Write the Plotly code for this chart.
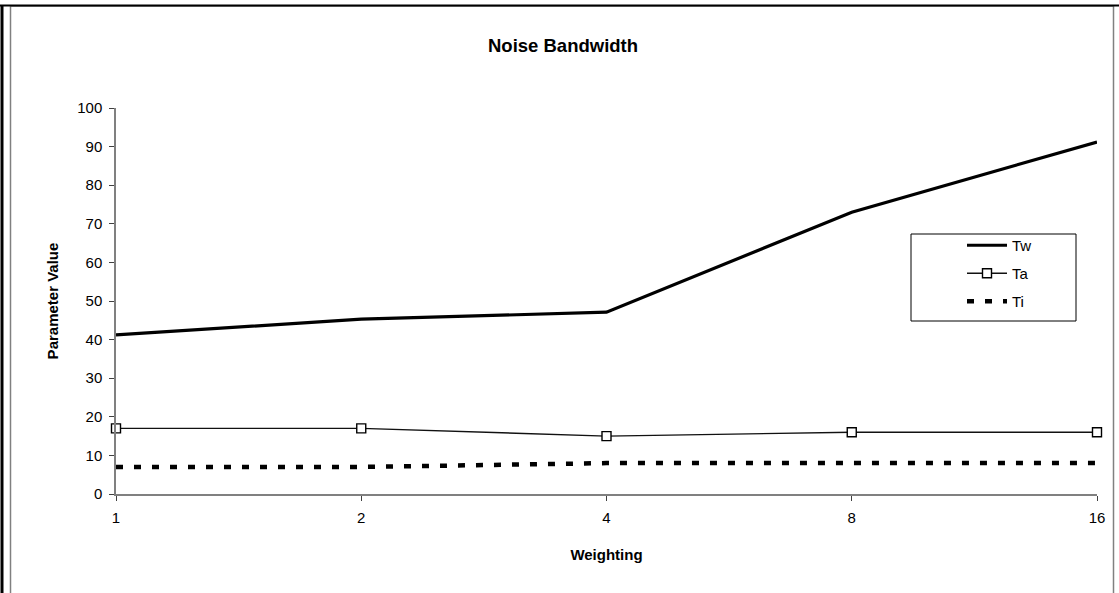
import plotly.graph_objects as go

categories = ["1", "2", "4", "8", "16"]
tw = [41.2, 45.3, 47.1, 73.0, 91.2]
ta = [17, 17, 15, 16, 16]
ti = [7, 7, 8, 8, 8]
y_ticks = [0, 10, 20, 30, 40, 50, 60, 70, 80, 90, 100]

W, H = 1119, 593
L, R, T, B = 116, 1097, 108, 494  # plot area in pixels
FONT = "Arial, Liberation Sans, sans-serif"


def px_x(p):
    return (p - L) / (R - L)


def px_y(p):
    return (B - p) / (B - T)


fig = go.Figure()
fig.add_trace(go.Scatter(x=categories, y=tw, name="Tw", mode="lines",
                         line=dict(color="black", width=3.2),
                         legendgroup="a", cliponaxis=False))
fig.add_trace(go.Scatter(x=categories, y=ta, name="Ta", mode="lines+markers",
                         line=dict(color="#111111", width=1.4),
                         marker=dict(symbol="square", size=9, color="white",
                                     line=dict(color="black", width=1.4)),
                         legendgroup="b", cliponaxis=False))
fig.add_trace(go.Scatter(x=categories, y=ti, name="Ti", mode="lines",
                         line=dict(color="black", width=4.5, dash="7px,11px"),
                         legendgroup="c", cliponaxis=False))

shapes = [
    # legend box
    dict(type="rect", xref="paper", yref="paper",
         x0=px_x(911), x1=px_x(1076), y0=px_y(321), y1=px_y(234),
         line=dict(color="black", width=1), fillcolor="rgba(0,0,0,0)"),
    # chart area border (gray)
    dict(type="rect", xref="paper", yref="paper",
         x0=px_x(10.5), x1=px_x(1113.5), y0=px_y(620), y1=px_y(6),
         line=dict(color="#808080", width=1.5), fillcolor="rgba(0,0,0,0)"),
    # outer black frame lines
    dict(type="line", xref="paper", yref="paper",
         x0=px_x(2), x1=px_x(2), y0=px_y(620), y1=px_y(5),
         line=dict(color="black", width=3)),
    dict(type="line", xref="paper", yref="paper",
         x0=px_x(0), x1=px_x(1119), y0=px_y(5.5), y1=px_y(5.5),
         line=dict(color="black", width=2)),
]

fig.update_layout(
    width=W, height=H,
    margin=dict(l=L, r=W - R, t=T, b=H - B),
    paper_bgcolor="white", plot_bgcolor="white",
    font=dict(family=FONT, size=15, color="black"),
    title=dict(text="<b>Noise Bandwidth</b>", x=563 / W, xref="container",
               xanchor="center", y=1 - 46 / H, yref="container",
               yanchor="middle", font=dict(size=18.5, family=FONT)),
    showlegend=True,
    legend=dict(x=px_x(962), y=px_y(229), xanchor="left", yanchor="top",
                bgcolor="rgba(0,0,0,0)", borderwidth=0,
                font=dict(size=15, family=FONT),
                tracegroupgap=5.5, itemwidth=40),
    shapes=shapes,
)

fig.update_xaxes(
    type="category", categoryorder="array", categoryarray=categories,
    range=[0, len(categories) - 1],
    showline=True, linecolor="#808080", linewidth=1.5,
    ticks="outside", ticklen=5, tickcolor="#404040", tickwidth=1,
    showgrid=False, zeroline=False, ticklabelstandoff=4,
    tickfont=dict(size=15, family=FONT),
    title=dict(text="<b>Weighting</b>", standoff=25,
               font=dict(size=15, family=FONT)),
)
fig.update_yaxes(
    range=[0, 100], tickvals=y_ticks,
    showline=True, linecolor="#808080", linewidth=1.5,
    ticks="outside", ticklen=5, tickcolor="#404040", tickwidth=1,
    showgrid=False, zeroline=False, ticklabelstandoff=4,
    tickfont=dict(size=15, family=FONT),
    title=dict(text="<b>Parameter Value</b>", standoff=15,
               font=dict(size=15, family=FONT)),
)

fig.write_html("out.html")
